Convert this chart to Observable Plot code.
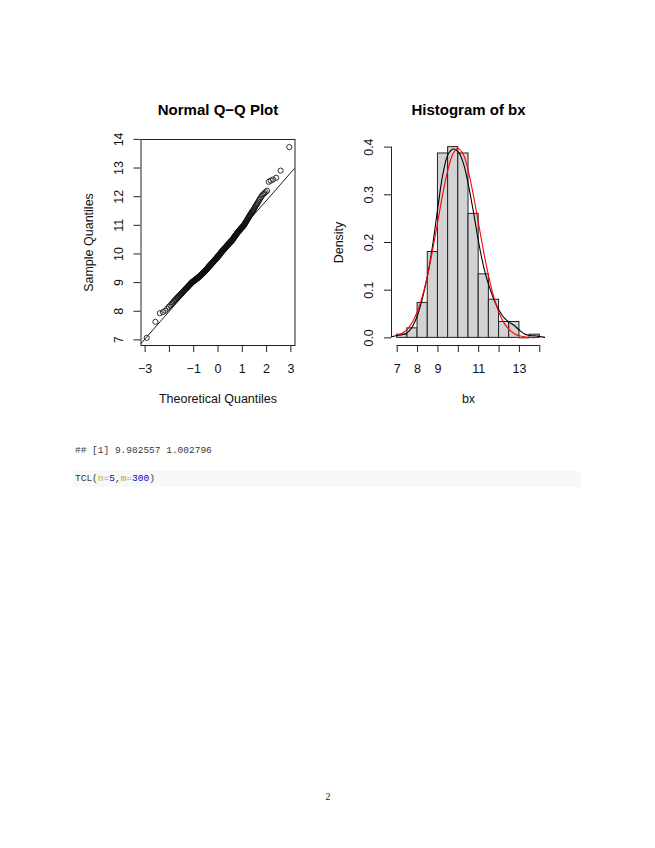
<!DOCTYPE html>
<html>
<head>
<meta charset="utf-8">
<script src="https://cdn.jsdelivr.net/npm/d3@7"></script>
<script src="https://cdn.jsdelivr.net/npm/@observablehq/plot@0.6"></script>
<style>
  body { margin: 0; background: #fff; }
  #page { position: relative; width: 655px; height: 848px; background: #fff; overflow: hidden; }
  .abs { position: absolute; }
  .mono { font-family: "Liberation Mono", "DejaVu Sans Mono", monospace; font-size: 9.5px; line-height: 12px; white-space: pre; color: #3a3a3a; }
  #codebox { left: 73px; top: 471px; width: 508px; height: 16px; background: #f8f8f8; }
  #out { left: 75px; top: 445px; }
  #code { left: 75px; top: 473px; }
  #pnum { left: 318px; top: 791px; width: 20px; text-align: center; font-family: "Liberation Serif", "DejaVu Serif", serif; font-size: 10px; color: #222; }
  .attr { color: #c4a000; }
  .num { color: #0000cf; }
</style>
</head>
<body>
<div id="page">
  <div id="left" class="abs" style="left:70px;top:80px;"></div>
  <div id="right" class="abs" style="left:320px;top:80px;"></div>
  <div id="out" class="abs mono"></div>
  <div id="codebox" class="abs"></div>
  <div id="code" class="abs mono"></div>
  <div id="pnum" class="abs"></div>
</div>
<script>
// ---------- data ----------
const sampleLow = [7.07, 7.63, 7.93, 7.97,
  8.02, 8.09, 8.16, 8.21, 8.26, 8.31, 8.35, 8.39, 8.42, 8.46, 8.49];
const sample85 = [8.51, 8.54, 8.56, 8.59, 8.61, 8.63, 8.66, 8.68, 8.70, 8.72, 8.74, 8.76, 8.78, 8.79,
  8.81, 8.83, 8.84, 8.86, 8.88, 8.89, 8.91, 8.92, 8.94, 8.95, 8.96, 8.98, 8.99];
const sample90 = [9.01, 9.02, 9.03, 9.04, 9.04, 9.05, 9.06, 9.07, 9.08, 9.09,
  9.09, 9.10, 9.11, 9.12, 9.13, 9.14, 9.15, 9.15, 9.16, 9.17,
  9.18, 9.19, 9.20, 9.20, 9.21, 9.22, 9.23, 9.24, 9.25, 9.25,
  9.26, 9.27, 9.28, 9.29, 9.30, 9.31, 9.31, 9.32, 9.33, 9.34,
  9.35, 9.36, 9.36, 9.37, 9.38, 9.39, 9.40, 9.41, 9.41, 9.42,
  9.43, 9.44, 9.45, 9.46, 9.47, 9.47, 9.48, 9.49];
const sample95 = [9.51, 9.52, 9.53, 9.53, 9.54, 9.55, 9.56, 9.57, 9.58, 9.58,
  9.59, 9.60, 9.61, 9.62, 9.62, 9.63, 9.64, 9.65, 9.66, 9.67,
  9.67, 9.68, 9.69, 9.70, 9.71, 9.71, 9.72, 9.73, 9.74, 9.75,
  9.75, 9.76, 9.77, 9.78, 9.79, 9.80, 9.80, 9.81, 9.82, 9.83,
  9.84, 9.84, 9.85, 9.86, 9.87, 9.88, 9.89, 9.89, 9.90, 9.91,
  9.92, 9.93, 9.93, 9.94, 9.95, 9.96, 9.97, 9.97, 9.98, 9.99];
const sample100 = [10.01, 10.02, 10.03, 10.04, 10.04, 10.05, 10.06, 10.07, 10.08, 10.09,
  10.09, 10.10, 10.11, 10.12, 10.13, 10.14, 10.15, 10.15, 10.16, 10.17,
  10.18, 10.19, 10.20, 10.20, 10.21, 10.22, 10.23, 10.24, 10.25, 10.25,
  10.26, 10.27, 10.28, 10.29, 10.30, 10.31, 10.31, 10.32, 10.33, 10.34,
  10.35, 10.36, 10.36, 10.37, 10.38, 10.39, 10.40, 10.41, 10.41, 10.42,
  10.43, 10.44, 10.45, 10.46, 10.47, 10.47, 10.48, 10.49];
const sample105 = [10.51, 10.52, 10.54, 10.55, 10.56, 10.57, 10.59, 10.60, 10.61, 10.62,
  10.64, 10.65, 10.66, 10.67, 10.69, 10.70, 10.71, 10.72, 10.74, 10.75,
  10.76, 10.77, 10.79, 10.80, 10.81, 10.83, 10.84, 10.85, 10.86, 10.88,
  10.89, 10.90, 10.91, 10.93, 10.94, 10.95, 10.96, 10.98, 10.99];
const sampleHigh = [11.01, 11.03, 11.05, 11.08, 11.10, 11.12, 11.14, 11.17, 11.19, 11.21,
  11.24, 11.27, 11.29, 11.32, 11.35, 11.37, 11.40, 11.43, 11.46, 11.49,
  11.51, 11.54, 11.58, 11.62, 11.66, 11.70, 11.74, 11.78, 11.83, 11.88, 11.93, 11.98,
  12.04, 12.08, 12.12, 12.16, 12.21,
  12.52, 12.56, 12.60, 12.66, 12.91,
  13.73];

const qqXTicks = [-3, -2, -1, 0, 1, 2, 3];
const qqXLabels = [-3, -1, 0, 1, 2, 3];
const qqYTicks = [7, 8, 9, 10, 11, 12, 13, 14];

// histogram (freq = FALSE)
const histBreaks = [7, 7.5, 8, 8.5, 9, 9.5, 10, 10.5, 11, 11.5, 12, 12.5, 13, 13.5, 14];
const histDensity = [0.0067, 0.02, 0.0733, 0.18, 0.3867, 0.4, 0.3867, 0.26, 0.1333, 0.08, 0.0333, 0.0333, 0, 0.0067];
const histXTicks = [7, 8, 9, 10, 11, 12, 13, 14];
const histXLabels = [7, 8, 9, 11, 13];
const histYTicks = [0, 0.1, 0.2, 0.3, 0.4];

// black kernel density curve
const kdeX = [6.72, 7.0, 7.25, 7.5, 7.75, 8.0, 8.25, 8.5, 8.75, 9.0, 9.25, 9.5, 9.75, 10.0, 10.25, 10.5,
  10.75, 11.0, 11.25, 11.5, 11.75, 12.0, 12.25, 12.5, 12.75, 13.0, 13.25, 13.5, 13.75, 14.0, 14.28];
const kdeY = [0.0022, 0.0050, 0.0064, 0.011, 0.024, 0.048, 0.085, 0.133, 0.197, 0.275, 0.345, 0.385, 0.396, 0.390, 0.366, 0.320,
  0.262, 0.200, 0.148, 0.110, 0.080, 0.058, 0.042, 0.033, 0.026, 0.016, 0.008, 0.0048, 0.0045, 0.003, 0.0008];

// red normal curve
const normX = [7.07, 7.25, 7.5, 7.75, 8.0, 8.25, 8.5, 8.75, 9.0, 9.25, 9.5, 9.75, 9.98, 10.25, 10.5,
  10.75, 11.0, 11.25, 11.5, 11.75, 12.0, 12.25, 12.5, 12.75, 13.0, 13.25, 13.5, 13.73];
const normY = [0.0059, 0.0097, 0.0185, 0.0334, 0.0564, 0.0894, 0.1333, 0.1869, 0.2461, 0.3046, 0.3542, 0.3872, 0.3978, 0.3840, 0.3483,
  0.2970, 0.2379, 0.1792, 0.1269, 0.0843, 0.0527, 0.0309, 0.0171, 0.0088, 0.0043, 0.0020, 0.00085, 0.00037];

const printedOutput = "## [1] 9.982557 1.002796";
const codeTokens = [["TCL(", ""], ["n=", "attr"], ["5", "num"], [",", ""], ["m=", "attr"], ["300", "num"], [")", ""]];
const pageNumber = "2";

// ---------- helpers ----------
function qnorm(p) {
  const a = [-3.969683028665376e+01, 2.209460984245205e+02, -2.759285104469687e+02, 1.383577518672690e+02, -3.066479806614716e+01, 2.506628277459239e+00];
  const b = [-5.447609879822406e+01, 1.615858368580409e+02, -1.556989798598866e+02, 6.680131188771972e+01, -1.328068155288572e+01];
  const c = [-7.784894002430293e-03, -3.223964580411365e-01, -2.400758277161838e+00, -2.549732539343734e+00, 4.374664141464968e+00, 2.938163982698783e+00];
  const d = [7.784695709041462e-03, 3.224671290700398e-01, 2.445134137142996e+00, 3.754408661907416e+00];
  const pl = 0.02425, ph = 1 - pl;
  let q, r;
  if (p < pl) { q = Math.sqrt(-2 * Math.log(p)); return (((((c[0]*q+c[1])*q+c[2])*q+c[3])*q+c[4])*q+c[5]) / ((((d[0]*q+d[1])*q+d[2])*q+d[3])*q+1); }
  if (p > ph) { q = Math.sqrt(-2 * Math.log(1 - p)); return -(((((c[0]*q+c[1])*q+c[2])*q+c[3])*q+c[4])*q+c[5]) / ((((d[0]*q+d[1])*q+d[2])*q+d[3])*q+1); }
  q = p - 0.5; r = q * q;
  return (((((a[0]*r+a[1])*r+a[2])*r+a[3])*r+a[4])*r+a[5])*q / (((((b[0]*r+b[1])*r+b[2])*r+b[3])*r+b[4])*r+1);
}
const ext = (lo, hi) => [lo - 0.04 * (hi - lo), hi + 0.04 * (hi - lo)]; // R's 4% axis expansion
const rnum = d => (d < 0 ? "\u2212" + Math.abs(d) : String(d));

const FONT = "'Liberation Sans', Arial, Helvetica, sans-serif";
const INK = "#222";
const baseStyle = { fontFamily: FONT, fontSize: "12.5px", color: "#000", background: "transparent", overflow: "visible" };
const centered = { textAnchor: "middle", lineAnchor: "middle" };

// ---------- Q-Q plot ----------
const sorted = [...sampleLow, ...sample85, ...sample90, ...sample95, ...sample100, ...sample105, ...sampleHigh].sort((a, b) => a - b);
const n = sorted.length;
const qq = sorted.map((y, i) => ({ x: qnorm((i + 0.5) / n), y }));
const qqXDom = ext(d3.min(qq, d => d.x), d3.max(qq, d => d.x));
const qqYDom = ext(d3.min(sorted), d3.max(sorted));
const q1 = d3.quantileSorted(sorted, 0.25), q3 = d3.quantileSorted(sorted, 0.75);
const slope = (q3 - q1) / (qnorm(0.75) - qnorm(0.25));
const intercept = q1 - slope * qnorm(0.25);
const qqLine = qqXDom.map(x => ({ x, y: intercept + slope * x }));

const left = Plot.plot({
  width: 250, height: 350,
  marginLeft: 70.5, marginRight: 25.5, marginTop: 59, marginBottom: 85,
  style: baseStyle,
  x: { domain: qqXDom },
  y: { domain: qqYDom },
  marks: [
    Plot.frame({ stroke: INK, strokeWidth: 1 }),
    Plot.axisX(qqXTicks, { tickSize: 7, tickFormat: () => "", label: null, stroke: INK }),
    Plot.axisY(qqYTicks, { tickSize: 7, tickFormat: () => "", label: null, stroke: INK }),
    Plot.text(qqXLabels, { x: d => d, text: rnum, frameAnchor: "bottom", dy: 23, fill: "#111", ...centered }),
    Plot.text(qqYTicks, { y: d => d, text: rnum, frameAnchor: "left", dx: -22.5, rotate: -90, fill: "#111", ...centered }),
    Plot.line(qqLine, { x: "x", y: "y", stroke: INK, strokeWidth: 1, clip: true }),
    Plot.dot(qq, { x: "x", y: "y", r: 2.6, stroke: "#111", strokeWidth: 0.85, fill: "none" }),
    Plot.text(["Normal Q\u2212Q Plot"], { frameAnchor: "top", dy: -29, fontWeight: "bold", fontSize: 15, fill: "#000", ...centered }),
    Plot.text(["Theoretical Quantiles"], { frameAnchor: "bottom", dy: 53, fill: "#111", ...centered }),
    Plot.text(["Sample Quantiles"], { frameAnchor: "left", dx: -52.5, rotate: -90, fill: "#111", ...centered })
  ]
});
document.getElementById("left").appendChild(left);

// ---------- Histogram ----------
const bins = histDensity.map((d, i) => ({ x1: histBreaks[i], x2: histBreaks[i + 1], y: d }));
const histXDom = ext(histBreaks[0], histBreaks[histBreaks.length - 1]);
const histYDom = ext(0, d3.max(histDensity));
const kde = kdeX.map((x, i) => ({ x, y: kdeY[i] }));
const norm = normX.map((x, i) => ({ x, y: normY[i] }));

const right = Plot.plot({
  width: 250, height: 350,
  marginLeft: 71, marginRight: 25, marginTop: 59, marginBottom: 85,
  style: baseStyle,
  x: { domain: histXDom },
  y: { domain: histYDom },
  marks: [
    Plot.rect(bins, { x1: "x1", x2: "x2", y1: () => 0, y2: "y", fill: "#d3d3d3", stroke: INK, strokeWidth: 1, inset: 0 }),
    Plot.ruleY(bins.filter(d => d.y === 0), { y: () => 0, x1: "x1", x2: "x2", stroke: INK, strokeWidth: 1 }),
    Plot.ruleX([histXDom[0]], { y1: () => histYTicks[0], y2: () => histYTicks[histYTicks.length - 1], stroke: INK, strokeWidth: 1 }),
    Plot.ruleY([histYDom[0]], { x1: () => histXTicks[0], x2: () => histXTicks[histXTicks.length - 1], stroke: INK, strokeWidth: 1 }),
    Plot.axisX(histXTicks, { tickSize: 7, tickFormat: () => "", label: null, stroke: INK }),
    Plot.axisY(histYTicks, { tickSize: 7, tickFormat: () => "", label: null, stroke: INK }),
    Plot.text(histXLabels, { x: d => d, text: String, frameAnchor: "bottom", dy: 23, fill: "#111", ...centered }),
    Plot.text(histYTicks, { y: d => d, text: d => d.toFixed(1), frameAnchor: "left", dx: -22.5, rotate: -90, fill: "#111", ...centered }),
    Plot.line(kde, { x: "x", y: "y", stroke: "#000", strokeWidth: 1.1, curve: "catmull-rom", clip: true }),
    Plot.line(norm, { x: "x", y: "y", stroke: "#ff0000", strokeWidth: 1.1, curve: "catmull-rom", clip: true }),
    Plot.text(["Histogram of bx"], { frameAnchor: "top", dy: -29, fontWeight: "bold", fontSize: 15, fill: "#000", ...centered }),
    Plot.text(["bx"], { frameAnchor: "bottom", dy: 53, fill: "#111", ...centered }),
    Plot.text(["Density"], { frameAnchor: "left", dx: -53, rotate: -90, fill: "#111", ...centered })
  ]
});
document.getElementById("right").appendChild(right);

// ---------- text below ----------
document.getElementById("out").textContent = printedOutput;
const codeEl = document.getElementById("code");
for (const [t, cls] of codeTokens) {
  const s = document.createElement("span");
  if (cls) s.className = cls;
  s.textContent = t;
  codeEl.appendChild(s);
}
document.getElementById("pnum").textContent = pageNumber;
</script>
</body>
</html>
